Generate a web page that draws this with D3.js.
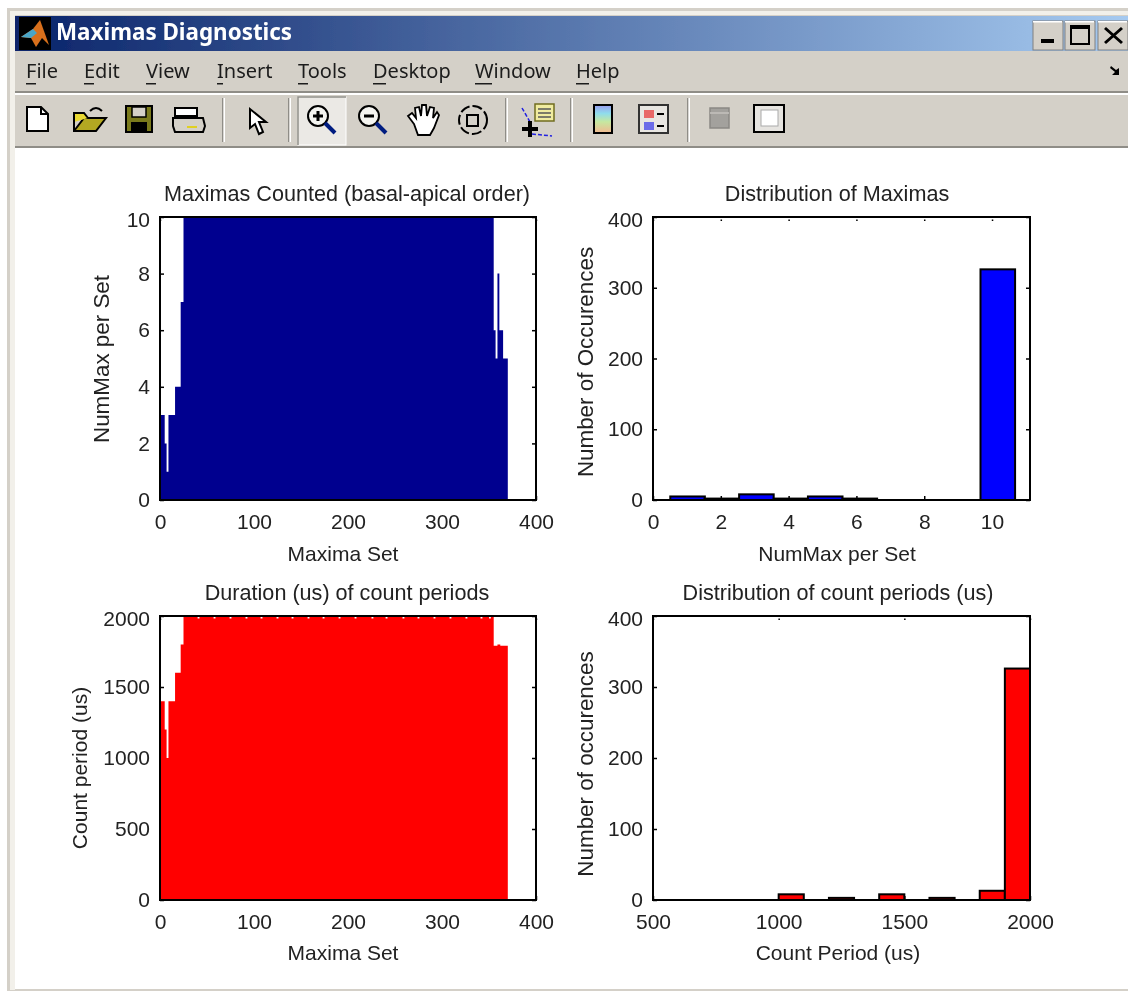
<!DOCTYPE html>
<html>
<head>
<meta charset="utf-8">
<title>Maximas Diagnostics</title>
<script src="https://cdn.jsdelivr.net/npm/d3@7"></script>
<style>
  html, body { margin: 0; padding: 0; background: #fff; }
  svg { display: block; }
  .axis text, .lbl { font-family: "Liberation Sans", Arial, sans-serif; font-size: 21px; fill: #222; }
  .menu { font-family: "Noto Sans", sans-serif; font-size: 20px; fill: #1c1c1c; }
</style>
</head>
<body>
<div id="chart"></div>
<script>
// run-length readings of the two per-set series
const setRunLengths = [5, 2, 2, 7, 6, 3, 330, 2, 2, 2, 4, 5];
const numMaxRuns = [3, 2, 1, 3, 4, 7, 10, 6, 5, 8, 6, 5];
const durationRunLengths = [5, 2, 2, 7, 6, 3, 330, 4, 3, 8];
const durationRuns = [1400, 1200, 1000, 1400, 1600, 1800, 2000, 1790, 1800, 1790];
// sets near the top of the red plot that read just under 2000
const durationDipSets = [40, 57, 74, 91, 107, 124, 140, 157, 173, 190, 207, 225, 240, 258, 274, 291, 308, 325, 341, 350];
const durationDipValue = 1982;

const numMaxBinCenters = [1.02, 2.03, 3.05, 4.07, 5.08, 6.1, 7.12, 8.13, 9.15, 10.17];
const numMaxBinCounts = [5, 2, 8, 2, 5, 2, 0, 0, 0, 326];
const periodBinCenters = [1050, 1150, 1250, 1350, 1450, 1550, 1650, 1750, 1850, 1950];
const periodBinCounts = [8, 0, 3, 0, 8, 0, 3, 0, 13, 326];

const setTicks = [0, 100, 200, 300, 400];
const numMaxTicks = [0, 2, 4, 6, 8, 10];
const durationTicks = [0, 500, 1000, 1500, 2000];
const countTicks = [0, 100, 200, 300, 400];
const histNumMaxTicks = [0, 2, 4, 6, 8, 10];
const periodTicks = [500, 1000, 1500, 2000];

const menuItems = ["File", "Edit", "View", "Insert", "Tools", "Desktop", "Window", "Help"];
const menuX = [26, 84, 146, 217, 298, 373, 475, 576];

const W = 1128;
const H = 992;
const TICK = 4;
const LEFT_COL = [160, 536];
const RIGHT_COL = [653, 1030];
const TOP_ROW = [500, 217];
const BOTTOM_ROW = [900, 616];

const svg = d3.select("#chart").append("svg").attr("width", W).attr("height", H).attr("viewBox", `0 0 ${W} ${H}`);

const defs = svg.append("defs");
defs.append("filter").attr("id", "soft").append("feGaussianBlur").attr("stdDeviation", 0.5);
const grad = defs.append("linearGradient").attr("id", "titlebar");
grad.append("stop").attr("offset", "0%").attr("stop-color", "#0a246a");
grad.append("stop").attr("offset", "100%").attr("stop-color", "#a6caf0");
const rainbow = defs.append("linearGradient").attr("id", "rainbow").attr("x2", 0).attr("y2", 1);
[["0%", "#9a9cf0"], ["30%", "#8fdcec"], ["60%", "#c6e8a0"], ["100%", "#f2b890"]].forEach(([o, c]) => {
  rainbow.append("stop").attr("offset", o).attr("stop-color", c);
});

const root = svg.append("g").attr("filter", "url(#soft)");

/* ---------- window chrome ---------- */
function rect(g, x, y, w, h, fill, stroke, sw) {
  return g.append("rect").attr("x", x).attr("y", y).attr("width", w).attr("height", h)
    .attr("fill", fill || "none").attr("stroke", stroke || "none").attr("stroke-width", sw || 0);
}
function path(g, d, fill, stroke, sw) {
  return g.append("path").attr("d", d).attr("fill", fill || "none")
    .attr("stroke", stroke || "none").attr("stroke-width", sw || 0);
}

const chrome = root.append("g");
rect(chrome, 7, 8, W - 7, H - 9, "#d4d0c8");
rect(chrome, 10, 11, W - 10, H - 13, "#f2f0ea");
rect(chrome, 15, 15, W - 15, H - 17, "#d4d0c8");
rect(chrome, 15, 148, W - 15, H - 151, "#fff");
rect(chrome, 15, 16, W - 15, 35, "url(#titlebar)");

// matlab logo
rect(chrome, 19, 17, 32, 33, "#050505");
path(chrome, "M21 37 L33 29 L40 20 L49 45 L42 38 L36 47 L31 38 Z", "#d9701c");
path(chrome, "M21 37 L33 29 L37 33 L31 38 Z", "#4aa6c8");

chrome.append("text").attr("x", 56).attr("y", 40).attr("fill", "#fff")
  .attr("font-family", '"Noto Sans", sans-serif').attr("font-weight", 700).attr("font-size", 22.4)
  .text("Maximas Diagnostics");

// window buttons
[[1033, 30], [1065, 30], [1098, 30]].forEach(([x, w]) => {
  rect(chrome, x, 21, w, 29, "#d4d0c8", "#808080", 1);
  rect(chrome, x, 21, w - 1, 1.5, "#fff");
});
rect(chrome, 1041, 39, 13, 4, "#000");
rect(chrome, 1071, 26, 18, 18, "none", "#000", 2);
rect(chrome, 1071, 26, 18, 3, "#000");
path(chrome, "M1105 28 L1122 43 M1122 28 L1105 43", "none", "#000", 3);

// menu bar
const menu = chrome.append("g");
menu.selectAll("text").data(menuItems).join("text")
  .attr("class", "menu")
  .attr("x", (d, i) => menuX[i])
  .attr("y", 78)
  .text((d) => d);
menu.selectAll("rect").data(menuItems).join("rect")
  .attr("x", (d, i) => menuX[i])
  .attr("y", 83)
  .attr("width", (d) => (d === "Window" ? 17 : d === "Desktop" || d === "Help" ? 13 : d === "Insert" ? 6 : 10))
  .attr("height", 1.5)
  .attr("fill", "#1c1c1c");
path(chrome, "M1111 66 L1116 70 L1119 68 L1119 75 L1112 75 L1115 72 L1110 68 Z", "#000");

rect(chrome, 15, 91, W - 15, 2, "#8f8d87");
rect(chrome, 15, 93, W - 15, 2, "#fff");
rect(chrome, 15, 146, W - 15, 2, "#8f8d87");

// toolbar
[222, 288, 505, 570, 687].forEach((x) => {
  rect(chrome, x, 98, 1.5, 44, "#8f8d87");
  rect(chrome, x + 1.5, 98, 1.5, 44, "#fff");
});
rect(chrome, 298, 97, 48, 48, "#ebe9e5", "#fff", 1);
path(chrome, "M298 145 L298 97 L346 97", "none", "#8f8d87", 1.5);

const tb = chrome.append("g");
path(tb, "M27 107 L41 107 L48 114 L48 131 L27 131 Z", "#fff", "#000", 2);
path(tb, "M41 107 L41 114 L48 114", "none", "#000", 2);
path(tb, "M74 122 L74 131 L96 131 L106 118 L84 118 L74 131", "#b3a820", "#000", 2);
path(tb, "M74 122 L74 113 L84 113 L88 118", "#e8d830", "#000", 2);
path(tb, "M90 111 Q96 105 102 111", "none", "#000", 2);
rect(tb, 126, 106, 26, 26, "#7a7a1a", "#000", 2);
rect(tb, 132, 107, 14, 10, "#d4d0c8", "#000", 1.5);
rect(tb, 131, 122, 16, 9, "#000");
rect(tb, 175, 108, 22, 8, "#fff", "#000", 2);
path(tb, "M173 118 L203 118 L205 126 L203 132 L175 132 L173 126 Z", "#d4d0c8", "#000", 2);
rect(tb, 187, 126, 10, 2, "#e0d020");
path(tb, "M250 109 L250 128 L255 124 L259 134 L263 132 L259 122 L266 122 Z", "#fff", "#000", 2);

function lens(g, cx, cy, plus) {
  g.append("circle").attr("cx", cx).attr("cy", cy).attr("r", 10).attr("fill", "#f4f4f0").attr("stroke", "#000").attr("stroke-width", 2);
  path(g, `M${cx + 7} ${cy + 7} L${cx + 17} ${cy + 17}`, "none", "#001a80", 4);
  path(g, `M${cx - 5} ${cy} L${cx + 5} ${cy}`, "none", "#000", 3);
  if (plus) path(g, `M${cx} ${cy - 5} L${cx} ${cy + 5}`, "none", "#000", 3);
}
lens(tb, 318, 116, true);
lens(tb, 369, 116, false);
path(tb, "M414 124 L408 116 L412 113 L416 118 L415 108 L419 107 L421 116 L422 105 L426 105 L427 116 L430 107 L434 108 L433 118 L437 112 L439 115 L434 128 L430 135 L418 135 Z", "#fff", "#000", 1.8);
tb.append("circle").attr("cx", 473).attr("cy", 120).attr("r", 14).attr("fill", "none").attr("stroke", "#000").attr("stroke-width", 2).attr("stroke-dasharray", "10 3");
rect(tb, 467, 115, 11, 11, "#d4d0c8", "#000", 2);
path(tb, "M522 108 L530 122 M532 134 L552 136", "none", "#2020e0", 1.5).attr("stroke-dasharray", "4 2");
rect(tb, 535, 104, 19, 17, "#f0eca0", "#706c20", 1.5);
path(tb, "M538 109 L551 109 M538 113 L551 113 M538 117 L551 117", "none", "#555", 1.5);
path(tb, "M522 129 L538 129 M530 121 L530 137", "none", "#000", 4);
rect(tb, 594, 105, 18, 28, "url(#rainbow)", "#000", 2);
rect(tb, 639, 105, 29, 28, "#e8e6e2", "#333", 2);
rect(tb, 644, 110, 10, 8, "#e86868");
rect(tb, 644, 122, 10, 8, "#6c6ce8");
path(tb, "M657 114 L664 114 M657 126 L664 126", "none", "#000", 2);
rect(tb, 710, 108, 19, 20, "#a3a19d", "#8a8884", 1.5);
path(tb, "M710 113 L729 113", "none", "#c4c2be", 1.5);
rect(tb, 754, 105, 30, 27, "#e6e4e0", "#000", 2);
rect(tb, 761, 110, 17, 16, "#fff", "#aaa", 1);

/* ---------- plots ---------- */
function expandRuns(lengths, values) {
  return d3.merge(lengths.map((n, i) => d3.range(n).map(() => values[i])));
}

const numMaxSeries = expandRuns(setRunLengths, numMaxRuns);
const durationSeries = expandRuns(durationRunLengths, durationRuns);
durationDipSets.forEach((s) => {
  durationSeries[s] = durationDipValue;
  durationSeries[s + 1] = durationDipValue;
});

function makeAxes(xRange, yRange, xDomain, yDomain, xTicks, yTicks) {
  const x = d3.scaleLinear().domain(xDomain).range(xRange);
  const y = d3.scaleLinear().domain(yDomain).range(yRange);
  const g = root.append("g");
  g.append("g").attr("class", "axis").attr("transform", `translate(0,${yRange[0]})`)
    .call(d3.axisBottom(x).tickValues(xTicks).tickFormat(d3.format("d")).tickSizeInner(-TICK).tickSizeOuter(0).tickPadding(14));
  const left = g.append("g").attr("class", "axis").attr("transform", `translate(${xRange[0]},0)`)
    .call(d3.axisLeft(y).tickValues(yTicks).tickFormat(d3.format("d")).tickSizeInner(-TICK).tickSizeOuter(0).tickPadding(10));
  const top = g.append("g").attr("class", "axis").attr("transform", `translate(0,${yRange[1]})`)
    .call(d3.axisTop(x).tickValues(xTicks).tickFormat("").tickSizeInner(-TICK).tickSizeOuter(0));
  g.append("g").attr("class", "axis").attr("transform", `translate(${xRange[1]},0)`)
    .call(d3.axisRight(y).tickValues(yTicks).tickFormat("").tickSizeInner(-TICK).tickSizeOuter(0));
  g.selectAll(".tick line").attr("stroke", "#000").attr("stroke-width", 1.5);
  // top ticks come out as small specks just under the frame
  top.selectAll(".tick line").attr("stroke-dasharray", "0 2.5 1.5");
  g.selectAll(".domain").attr("stroke", "none");
  // the topmost label sits a little below its tick
  left.selectAll("text").filter((d) => d === yDomain[1]).attr("y", 3);
  return { x, y, g };
}

function frame(xRange, yRange) {
  root.append("rect").attr("x", xRange[0]).attr("y", yRange[1])
    .attr("width", xRange[1] - xRange[0]).attr("height", yRange[0] - yRange[1])
    .attr("fill", "none").attr("stroke", "#000").attr("stroke-width", 2);
}

function labels(title, xLabel, yLabel, titleX, titleY, xLabelX, xLabelY, yLabelX, yLabelY, yLabelSize) {
  const g = root.append("g");
  g.append("text").attr("class", "lbl").attr("text-anchor", "middle").attr("x", titleX).attr("y", titleY)
    .style("font-size", "21.6px").text(title);
  g.append("text").attr("class", "lbl").attr("text-anchor", "middle").attr("x", xLabelX).attr("y", xLabelY).text(xLabel);
  g.append("text").attr("class", "lbl").attr("text-anchor", "middle")
    .attr("transform", `translate(${yLabelX},${yLabelY}) rotate(-90)`)
    .style("font-size", `${yLabelSize}px`).text(yLabel);
}

function stepPanel(series, color, xRange, yRange, yDomain, yTicks) {
  const ax = makeAxes(xRange, yRange, [0, 400], yDomain, setTicks, yTicks);
  const closed = series.concat(series[series.length - 1]);
  const area = d3.area().curve(d3.curveStepAfter)
    .x((d, i) => ax.x(i))
    .y0(ax.y(0))
    .y1((d) => ax.y(d));
  root.append("path").attr("d", area(closed)).attr("fill", color);
  frame(xRange, yRange);
}

function histPanel(centers, counts, binWidth, color, xRange, yRange, xDomain, xTicks) {
  const ax = makeAxes(xRange, yRange, xDomain, [0, 400], xTicks, countTicks);
  root.append("g").selectAll("rect").data(counts.map((c, i) => ({ c, center: centers[i] })).filter((d) => d.c > 0)).join("rect")
    .attr("x", (d) => ax.x(d.center - binWidth / 2))
    .attr("width", (d) => ax.x(d.center + binWidth / 2) - ax.x(d.center - binWidth / 2))
    .attr("y", (d) => ax.y(d.c))
    .attr("height", (d) => ax.y(0) - ax.y(d.c))
    .attr("fill", color)
    .attr("stroke", "#000")
    .attr("stroke-width", 2);
  frame(xRange, yRange);
}

stepPanel(numMaxSeries, "#00008f", LEFT_COL, TOP_ROW, [0, 10], numMaxTicks);
histPanel(numMaxBinCenters, numMaxBinCounts, 1.02, "#0000ff", RIGHT_COL, TOP_ROW, [0, 11.12], histNumMaxTicks);
stepPanel(durationSeries, "#ff0000", LEFT_COL, BOTTOM_ROW, [0, 2000], durationTicks);
histPanel(periodBinCenters, periodBinCounts, 100, "#ff0000", RIGHT_COL, BOTTOM_ROW, [500, 2000], periodTicks);

labels("Maximas Counted (basal-apical order)", "Maxima Set", "NumMax per Set", 347, 201, 343, 561, 109, 359, 22.4);
labels("Distribution of Maximas", "NumMax per Set", "Number of Occurences", 837, 201, 837, 561, 593, 362, 22.4);
labels("Duration (us) of count periods", "Maxima Set", "Count period (us)", 347, 600, 343, 960, 87, 768, 21);
labels("Distribution of count periods (us)", "Count Period (us)", "Number of occurences", 838, 600, 838, 960, 593, 764, 22.4);
</script>
</body>
</html>
